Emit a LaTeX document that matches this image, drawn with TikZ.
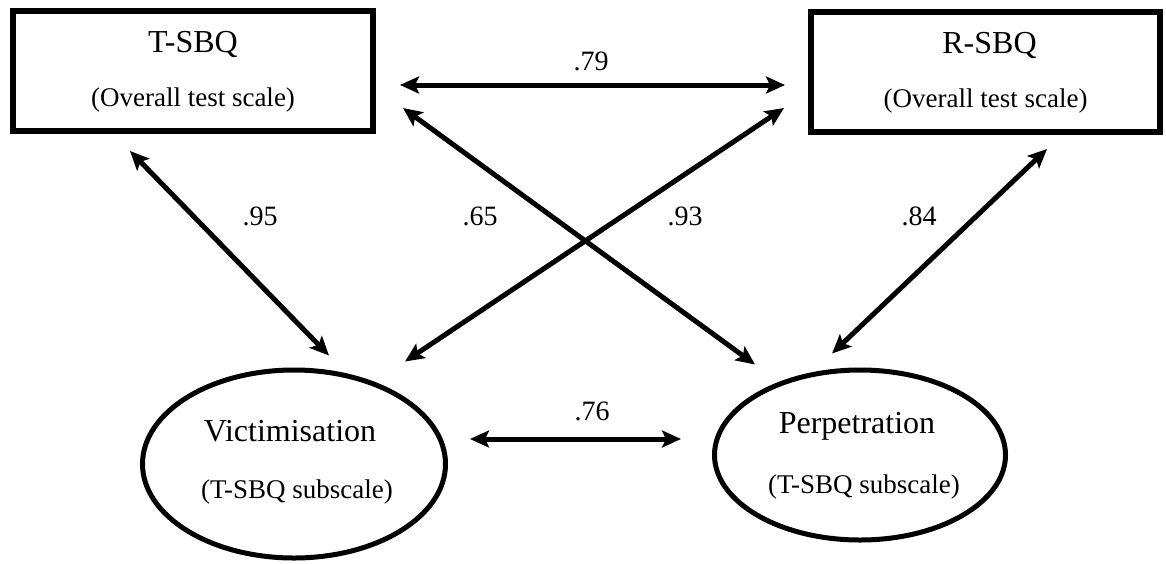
\documentclass[tikz,border=0pt]{standalone}
\usepackage{fontspec}
\setmainfont{Liberation Serif}
\usetikzlibrary{arrows.meta,calc,shapes.geometric}
\begin{document}
\begin{tikzpicture}[x=1pt,y=-1pt,
  scalebox/.style={draw, line width=6pt, minimum height=120pt, inner sep=0pt},
  latent/.style={draw, ellipse, line width=5pt, inner sep=0pt},
  title/.style={font=\fontsize{32}{36}\selectfont},
  subtitle/.style={font=\fontsize{27}{30}\selectfont},
  coef/.style={font=\fontsize{28}{30}\selectfont},
  link/.style={line width=5pt, {Stealth[length=19pt,width=17pt,inset=4pt]}-{Stealth[length=19pt,width=17pt,inset=4pt]}}]
\useasboundingbox (0,0) rectangle (1166,563);

% observed scales
\node[scalebox, minimum width=360pt] (tsbq) at (193,71) {};
\node[scalebox, minimum width=349pt] (rsbq) at (985.5,72) {};
\node[title] (tsbq-t) at ($(tsbq.center)+(0,-27)$) {T-SBQ};
\node[subtitle] (tsbq-s) at ($(tsbq.center)+(0,29)$) {(Overall test scale)};
\node[title] (rsbq-t) at ($(rsbq.center)+(4,-27)$) {R-SBQ};
\node[subtitle] (rsbq-s) at ($(rsbq.center)+(0,29)$) {(Overall test scale)};

% subscales
\node[latent, minimum width=303pt, minimum height=188pt] (vict) at (294,464) {};
\node[latent, minimum width=291pt, minimum height=170pt] (perp) at (860,455) {};
\node[title] (vict-t) at ($(vict.center)+(-4,-33)$) {Victimisation};
\node[subtitle] (vict-s) at ($(vict.center)+(3,28)$) {(T-SBQ subscale)};
\node[title] (perp-t) at ($(perp.center)+(-3,-29)$) {Perpetration};
\node[subtitle] (perp-s) at ($(perp.center)+(4,32)$) {(T-SBQ subscale)};

% connector end points
\coordinate (t-r) at ($(tsbq.east)+(24,14)$);
\coordinate (r-t) at ($(rsbq.west)+(-23,13)$);
\coordinate (t-p) at ($(tsbq.south east)+(27,-26)$);
\coordinate (r-v) at ($(rsbq.south west)+(-24,-27)$);
\coordinate (t-v) at ($(tsbq.south west)+(120,17)$);
\coordinate (r-p) at ($(rsbq.south east)+(-116,14)$);
\coordinate (v-t) at ($(vict.north)+(35,-12)$);
\coordinate (v-r) at ($(vict.north)+(111,-6)$);
\coordinate (p-t) at ($(perp.north)+(-105,-3)$);
\coordinate (p-r) at ($(perp.north)+(-28,-14)$);
\coordinate (v-p) at ($(vict.east)+(22,-25)$);
\coordinate (p-v) at ($(perp.west)+(-31,-16)$);

% correlations
\draw[link] (t-r) -- (r-t);
\draw[link] (t-v) -- (v-t);
\draw[link] (t-p) -- (p-t);
\draw[link] (r-v) -- (v-r);
\draw[link] (r-p) -- (p-r);
\draw[link] (v-p) -- (p-v);

\node[coef] (c79) at (591,61) {.79};
\node[coef] (c76) at (592,411) {.76};
\node[coef] (c95) at (260,216) {.95};
\node[coef] (c65) at (480,216) {.65};
\node[coef] (c93) at (685,216) {.93};
\node[coef] (c84) at (919,216) {.84};
\end{tikzpicture}
\end{document}
